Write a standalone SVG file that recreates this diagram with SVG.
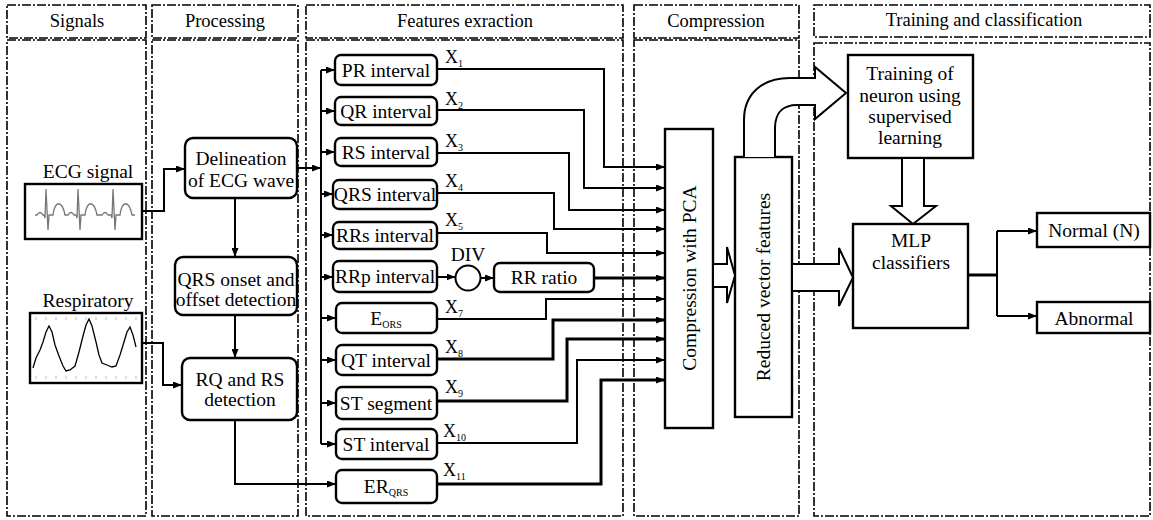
<svg xmlns="http://www.w3.org/2000/svg" width="1153" height="520" viewBox="0 0 1153 520" font-family="'Liberation Serif', 'DejaVu Serif', serif">
<defs>
<style>
text{font-family:'Liberation Serif','Times New Roman','DejaVu Serif',serif}
.col{fill:none;stroke:#000;stroke-width:1.6;stroke-dasharray:9,2,2,2}
.hd{font-size:18.5px;fill:#000;text-anchor:middle}
.t{font-size:19.5px;fill:#000;text-anchor:middle}
.lbl{font-size:18px;fill:#000}
.sub{font-size:10px}
.rb{fill:#fff;stroke:#000;stroke-width:2.4}
.c{fill:none;stroke:#000;stroke-width:2}
.cb{fill:none;stroke:#000;stroke-width:3}
.ha{fill:#fff;stroke:#000;stroke-width:2;stroke-linejoin:miter}
</style>
<marker id="ah" markerUnits="userSpaceOnUse" markerWidth="9" markerHeight="7" refX="9" refY="3.5" orient="auto">
<path d="M0,0 L9,3.5 L0,7 z" fill="#000"/>
</marker>
</defs>
<rect width="1153" height="520" fill="#fff"/>

<g id="columns">
<rect class="col" x="7" y="5" width="139" height="33"/>
<rect class="col" x="7" y="40" width="139" height="476"/>
<rect class="col" x="152" y="5" width="146" height="33"/>
<rect class="col" x="152" y="40" width="146" height="476"/>
<rect class="col" x="306" y="5" width="317" height="33"/>
<rect class="col" x="306" y="40" width="317" height="476"/>
<rect class="col" x="634" y="5" width="165" height="33"/>
<rect class="col" x="634" y="40" width="165" height="476"/>
<rect class="col" x="814" y="5" width="336" height="32"/>
<rect class="col" x="814" y="43" width="336" height="473"/>
<text class="hd" x="77" y="27">Signals</text>
<text class="hd" x="225" y="27">Processing</text>
<text class="hd" x="465" y="27">Features exraction</text>
<text class="hd" x="716" y="27">Compression</text>
<text class="hd" x="984" y="26">Training and classification</text>
</g>

<g id="ecg">
<text class="t" x="88" y="178">ECG signal</text>
<rect x="25" y="184" width="117" height="55" fill="#fff" stroke="#000" stroke-width="2.4"/>
<path d="M35,215 L37,215 Q40,210 43,215 L44,215 L45,218 L46,189 L48,230 L49,215 L53,215 C55,200 62,200 65,215 L68,215 Q71,210 74,215 L76,215 L77,218 L78,189 L80,230 L81,215 L85,215 C87,200 94,200 97,215 L102,215 Q105,210 108,215 L111,215 L112,218 L113,189 L115,230 L116,215 L120,215 C122,200 129,200 132,215 L135,215" fill="none" stroke="#777" stroke-width="1.3"/>
</g>

<g id="respiratory">
<text class="t" x="88" y="307">Respiratory</text>
<rect x="30" y="313" width="112" height="70" fill="#fff" stroke="#000" stroke-width="2.4"/>
<path d="M36,317v3M46,317v3M56,317v3M66,317v3M76,317v3M86,317v3M96,317v3M106,317v3M116,317v3M126,317v3M136,317v3M36,376v3M46,376v3M56,376v3M66,376v3M76,376v3M86,376v3M96,376v3M106,376v3M116,376v3M126,376v3M136,376v3" stroke="#bbb" stroke-width="1"/>
<path d="M33,368 L36,358 L40,350 L43,342 L46,332 L49,326 L52,332 L55,345 L59,356 L63,366 L66,371 L70,370 L75,366 L79,352 L83,336 L86,325 L89,319 L92,326 L96,342 L99,355 L102,363 L107,365 L112,367 L116,366 L120,355 L124,342 L127,332 L130,327 L133,335 L136,347" fill="none" stroke="#000" stroke-width="1.3"/>
</g>

<g id="delineation">
<rect class="rb" x="185" y="138" width="112" height="60" rx="8"/>
<text class="t" x="241" y="165">Delineation</text>
<text class="t" x="241" y="187">of ECG wave</text>
</g>
<g id="qrs-onset">
<rect class="rb" x="175" y="257" width="122" height="58" rx="8"/>
<text class="t" x="236" y="286">QRS onset and</text>
<text class="t" x="236" y="306">offset detection</text>
</g>
<g id="rq-rs">
<rect class="rb" x="182" y="358" width="115" height="62" rx="8"/>
<text class="t" x="240" y="386">RQ and RS</text>
<text class="t" x="240" y="406">detection</text>
</g>

<g id="pr"><rect class="rb" x="335" y="55" width="102" height="30" rx="6"/><text class="t" x="386" y="77">PR interval</text></g>
<g id="qr"><rect class="rb" x="335" y="97" width="102" height="28" rx="6"/><text class="t" x="386" y="118">QR interval</text></g>
<g id="rs"><rect class="rb" x="335" y="138" width="102" height="28" rx="6"/><text class="t" x="386" y="159">RS interval</text></g>
<g id="qrs"><rect class="rb" x="333" y="180" width="104" height="29" rx="6"/><text class="t" x="385" y="201">QRS interval</text></g>
<g id="rrs"><rect class="rb" x="333" y="222" width="104" height="27" rx="6"/><text class="t" x="385" y="242">RRs interval</text></g>
<g id="rrp"><rect class="rb" x="333" y="261" width="104" height="31" rx="6"/><text class="t" x="385" y="283">RRp interval</text></g>
<g id="eors"><rect class="rb" x="336" y="303" width="101" height="30" rx="6"/><text class="t" x="386" y="325">E<tspan class="sub" dy="3">ORS</tspan></text></g>
<g id="qt"><rect class="rb" x="336" y="345" width="101" height="30" rx="6"/><text class="t" x="386" y="367">QT interval</text></g>
<g id="stseg"><rect class="rb" x="336" y="387" width="101" height="32" rx="6"/><text class="t" x="386" y="410">ST segment</text></g>
<g id="stint"><rect class="rb" x="336" y="429" width="101" height="30" rx="6"/><text class="t" x="386" y="451">ST interval</text></g>
<g id="erqrs"><rect class="rb" x="336" y="470" width="101" height="33" rx="6"/><text class="t" x="386" y="493">ER<tspan class="sub" dy="3">QRS</tspan></text></g>

<g id="div">
<circle cx="468" cy="278" r="12.5" fill="#fff" stroke="#000" stroke-width="2"/>
<text class="t" x="468" y="261">DIV</text>
</g>
<g id="rr-ratio"><rect class="rb" x="494" y="263" width="100" height="29" rx="6"/><text class="t" x="544" y="284">RR ratio</text></g>

<g id="labels">
<text class="lbl" x="445" y="63">X<tspan class="sub" dy="4">1</tspan></text>
<text class="lbl" x="445" y="105">X<tspan class="sub" dy="4">2</tspan></text>
<text class="lbl" x="445" y="147">X<tspan class="sub" dy="4">3</tspan></text>
<text class="lbl" x="445" y="187">X<tspan class="sub" dy="4">4</tspan></text>
<text class="lbl" x="445" y="226">X<tspan class="sub" dy="4">5</tspan></text>
<text class="lbl" x="445" y="313">X<tspan class="sub" dy="4">7</tspan></text>
<text class="lbl" x="445" y="353">X<tspan class="sub" dy="4">8</tspan></text>
<text class="lbl" x="445" y="393">X<tspan class="sub" dy="4">9</tspan></text>
<text class="lbl" x="443" y="437">X<tspan class="sub" dy="4">10</tspan></text>
<text class="lbl" x="443" y="476">X<tspan class="sub" dy="4">11</tspan></text>
</g>

<g id="compression">
<rect x="665" y="129" width="48" height="299" fill="#fff" stroke="#000" stroke-width="2.4"/>
<text class="t" transform="translate(696,278) rotate(-90)" x="0" y="0">Compression with PCA</text>
</g>
<g id="reduced">
<rect x="735" y="157" width="57" height="260" fill="#fff" stroke="#000" stroke-width="2.4"/>
<text class="t" transform="translate(770,287) rotate(-90)" x="0" y="0">Reduced vector features</text>
</g>
<g id="training">
<rect x="848" y="55" width="125" height="103" fill="#fff" stroke="#000" stroke-width="2.4"/>
<text class="t" x="910" y="80">Training of</text>
<text class="t" x="910" y="102">neuron using</text>
<text class="t" x="910" y="123">supervised</text>
<text class="t" x="910" y="144">learning</text>
</g>
<g id="mlp">
<rect x="853" y="224" width="115" height="104" fill="#fff" stroke="#000" stroke-width="2.4"/>
<text class="t" x="911" y="247">MLP</text>
<text class="t" x="911" y="269">classifiers</text>
</g>
<g id="normal"><rect x="1037" y="213" width="113" height="34" fill="#fff" stroke="#000" stroke-width="2.4"/><text class="t" x="1094" y="237">Normal (N)</text></g>
<g id="abnormal"><rect x="1037" y="302" width="113" height="31" fill="#fff" stroke="#000" stroke-width="2.4"/><text class="t" x="1094" y="325">Abnormal</text></g>

<g id="connectors">
<path class="c" d="M142,211 H164 V169 H185" marker-end="url(#ah)"/>
<path class="c" d="M142,343 H163 V385 H182" marker-end="url(#ah)"/>
<path class="c" d="M235,198 V257" marker-end="url(#ah)"/>
<path class="c" d="M235,315 V358" marker-end="url(#ah)"/>
<path class="c" d="M235,420 V484 H336" marker-end="url(#ah)"/>
<path class="c" d="M297,168 H321" marker-end="url(#ah)"/>
<path class="c" d="M321,70 V444"/>
<path class="c" d="M321,70 H335" marker-end="url(#ah)"/>
<path class="c" d="M321,111 H335" marker-end="url(#ah)"/>
<path class="c" d="M321,152 H335" marker-end="url(#ah)"/>
<path class="c" d="M321,194 H333" marker-end="url(#ah)"/>
<path class="c" d="M321,235 H333" marker-end="url(#ah)"/>
<path class="c" d="M321,277 H333" marker-end="url(#ah)"/>
<path class="c" d="M321,318 H336" marker-end="url(#ah)"/>
<path class="c" d="M321,360 H336" marker-end="url(#ah)"/>
<path class="c" d="M321,403 H336" marker-end="url(#ah)"/>
<path class="c" d="M321,444 H336" marker-end="url(#ah)"/>
<path class="c" d="M437,277 H455.5" marker-end="url(#ah)"/>
<path class="c" d="M480.5,278 H494" marker-end="url(#ah)"/>
<path class="c" d="M437,69 H604 V167 H665" marker-end="url(#ah)"/>
<path class="c" d="M437,110 H584 V188 H665" marker-end="url(#ah)"/>
<path class="c" d="M437,153 H569 V210 H665" marker-end="url(#ah)"/>
<path class="c" d="M437,193 H554 V229 H665" marker-end="url(#ah)"/>
<path class="c" d="M437,233 H547 V253 H665" marker-end="url(#ah)"/>
<path class="cb" d="M594,278 H665" marker-end="url(#ah)"/>
<path class="c" d="M437,319 H546 V299 H665" marker-end="url(#ah)"/>
<path class="cb" d="M437,359 H553 V320 H665" marker-end="url(#ah)"/>
<path class="cb" d="M437,401 H567 V339 H665" marker-end="url(#ah)"/>
<path class="c" d="M437,443 H577 V360 H665" marker-end="url(#ah)"/>
<path class="cb" d="M437,484 H601 V380 H665" marker-end="url(#ah)"/>
<polygon class="ha" points="713,264 727,264 727,247 735,275.5 727,303 727,287 713,287"/>
<polygon class="ha" points="792,264 839,264 839,248 853,277.5 839,306 839,291 792,291"/>
<polygon class="ha" points="902,158 902,206 891,206 913,224 936,206 924,206 924,158"/>
<path class="ha" d="M744,157 V120 C744,94 762,78 790,78 H815 V67 L846,93 L815,119 V105 H797 C784,105 775,112 775,128 V157"/>
<path class="cb" d="M968,275 H997"/>
<path class="c" d="M997,231 V316"/>
<path class="c" d="M997,231 H1037" marker-end="url(#ah)"/>
<path class="c" d="M997,316 H1037" marker-end="url(#ah)"/>
</g>
</svg>
